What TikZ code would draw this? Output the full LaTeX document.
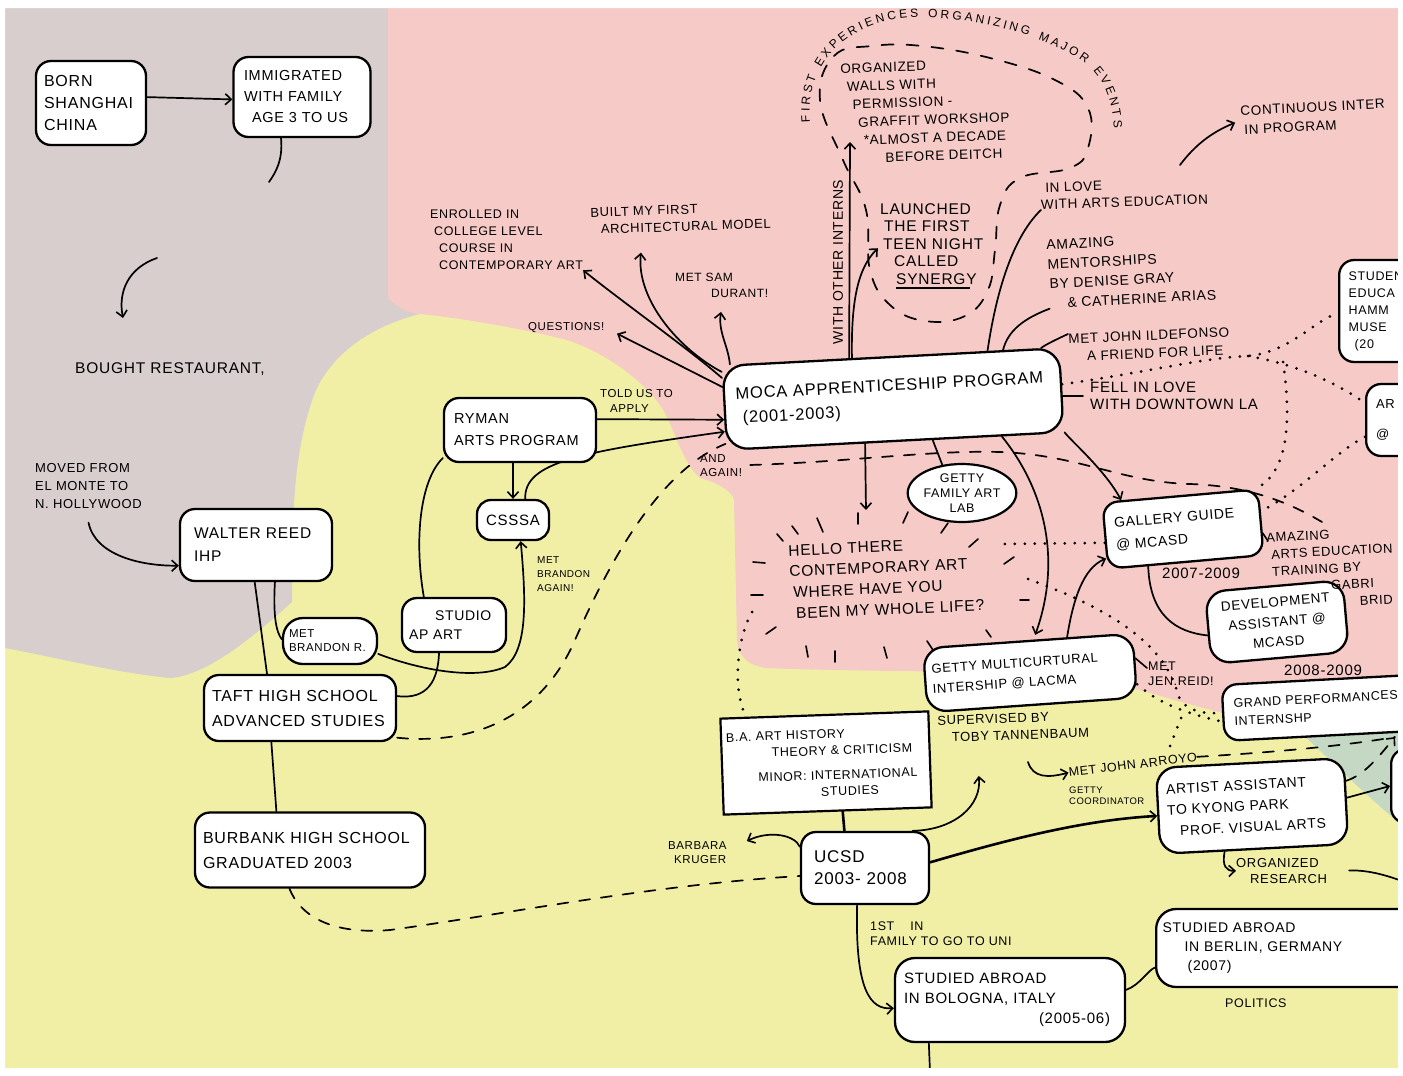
\documentclass[tikz,border=0pt]{standalone}
\usepackage{fontspec}
\setmainfont{Liberation Sans}[LetterSpace=5]
\usetikzlibrary{arrows.meta,shapes.geometric,decorations.text}
\newcommand{\myfs}[2]{\fontsize{#1pt}{#2pt}\selectfont}
\definecolor{bggray}{RGB}{216,206,205}
\definecolor{bgpink}{RGB}{246,202,198}
\definecolor{bgyellow}{RGB}{241,239,166}
\definecolor{bggreen}{RGB}{196,216,196}
\pgfdeclarelayer{back}
\pgfdeclarelayer{mid}
\pgfsetlayers{back,mid,main}
\tikzset{
  rbox/.style={draw=black, fill=white, line width=2.3pt, rounded corners=15pt, inner sep=3pt, align=left},
  lbl/.style={inner sep=0pt, align=left, anchor=north west},
  con/.style={line width=1.7pt, line cap=round},
  arr/.style={con, -{Straight Barb[length=6pt,width=11pt,line width=1.6pt]}},
  dashcon/.style={con, dash pattern=on 11pt off 11pt},
  dotcon/.style={line width=3pt, line cap=round, dash pattern=on 0pt off 10pt},
  tk/.style={line width=1.6pt, line cap=round},
}
\begin{document}
\hyphenpenalty=10000 \exhyphenpenalty=10000 \lefthyphenmin=60 \righthyphenmin=60
\begin{tikzpicture}[x=1pt,y=-1pt]
\useasboundingbox (0,0) rectangle (1403,1076);

% ---------- background regions ----------
\begin{pgfonlayer}{back}
\fill[white] (0,0) rectangle (1403,1076);
\fill[bgyellow] (5,8) rectangle (1398,1068);
\fill[bggray] (5,8) -- (388,8) -- (388,298) .. controls (398,308) and (408,312) .. (420,314)
  .. controls (372,326) and (334,352) .. (316,390) .. controls (300,430) and (294,480) .. (293,530)
  -- (292,602) .. controls (250,640) and (205,676) .. (170,678) .. controls (110,672) and (50,656) .. (5,648) -- cycle;
\fill[bgpink] (388,8) -- (1398,8) -- (1398,680) -- (1262,690) .. controls (1245,698) and (1232,707) .. (1223,713)
  .. controls (1170,700) and (1120,682) .. (1080,677) .. controls (1000,670) and (850,672) .. (766,668)
  .. controls (746,665) and (738,655) .. (737,640) -- (734,500) .. controls (732,490) and (715,482) .. (700,478)
  .. controls (682,462) and (676,432) .. (662,408) .. controls (648,386) and (612,355) .. (567,340)
  .. controls (520,328) and (460,318) .. (420,314) .. controls (408,312) and (398,308) .. (388,298) -- cycle;
\fill[bggreen] (1223,713) .. controls (1232,707) and (1245,698) .. (1262,690) -- (1398,678) -- (1398,822)
  .. controls (1360,790) and (1325,755) .. (1300,732) .. controls (1270,722) and (1240,716) .. (1223,713) -- cycle;
\end{pgfonlayer}

% ---------- boxes ----------
\node[rbox, minimum width=110pt, minimum height=84pt, text width=94pt, font=\myfs{16}{22}] (born) at (91,103) {BORN\\SHANGHAI\\CHINA};
\node[rbox, minimum width=137pt, minimum height=80pt, text width=116pt, font=\myfs{14.5}{21}] (immig) at (302,97) {IMMIGRATED\\WITH FAMILY\\\hspace*{8pt}AGE 3 TO US};
\node[rbox, minimum width=152pt, minimum height=72pt, text width=124pt, font=\myfs{15.5}{23}] (walter) at (256,545) {WALTER REED\\IHP};
\node[rbox, rounded corners=20pt, minimum width=94pt, minimum height=46pt, text width=82pt, font=\myfs{11.5}{14}] (brandon) at (330,641) {MET\\BRANDON R.};
\node[rbox, minimum width=104pt, minimum height=54pt, text width=90pt, font=\myfs{14}{19}] (studio) at (454,625) {\hspace*{26pt}STUDIO\\AP ART};
\node[rbox, minimum width=192pt, minimum height=66pt, text width=176pt, font=\myfs{16}{25}] (taft) at (300,708) {TAFT HIGH SCHOOL\\ADVANCED STUDIES};
\node[rbox, minimum width=230pt, minimum height=75pt, text width=214pt, font=\myfs{16}{25}] (burbank) at (310,850) {BURBANK HIGH SCHOOL\\GRADUATED 2003};
\node[rbox, minimum width=152pt, minimum height=64pt, text width=132pt, font=\myfs{14.5}{22}] (ryman) at (520,430) {RYMAN\\ARTS PROGRAM};
\node[rbox, rounded corners=14pt, minimum width=72pt, minimum height=40pt, font=\myfs{15}{18}, align=center] (csssa) at (513,520) {CSSSA};
\node[rbox, rotate=3, rounded corners=22pt, minimum width=337pt, minimum height=84pt, text width=314pt, font=\myfs{16.5}{24}] (moca) at (893,399) {MOCA APPRENTICESHIP PROGRAM\\\hspace*{6pt}(2001-2003)};
\node[draw=black, fill=white, line width=2.2pt, ellipse, minimum width=100pt, minimum height=58pt, inner sep=0pt, align=center, font=\myfs{12.5}{15}] (gettyfam) at (962,493) {GETTY\\FAMILY ART\\LAB};
\node[rbox, rotate=5, minimum width=156pt, minimum height=66pt, text width=136pt, font=\myfs{14}{22}] (gallery) at (1183,529) {GALLERY GUIDE\\@ MCASD};
\node[rbox, rotate=5, rounded corners=20pt, minimum width=138pt, minimum height=72pt, align=center, font=\myfs{13.5}{20}] (devel) at (1277,622) {DEVELOPMENT\\ASSISTANT @\\MCASD};
\node[rbox, rotate=4, rounded corners=20pt, minimum width=210pt, minimum height=64pt, text width=196pt, font=\myfs{13}{20}] (gettymc) at (1030,673) {GETTY MULTICURTURAL\\INTERSHIP @ LACMA};
\node[rbox, anchor=west, rotate=3, minimum width=200pt, minimum height=56pt, text width=178pt, font=\myfs{12.5}{18}] (grand) at (1222,713) {GRAND PERFORMANCES\\INTERNSHP};
\node[draw=black, fill=white, line width=2.2pt, rotate=2, minimum width=208pt, minimum height=96pt, inner sep=3pt, text width=198pt, align=left, font=\myfs{12.5}{16.5}] (ba) at (826,763) {B.A. ART HISTORY\\\hspace*{45pt}THEORY \& CRITICISM\\[8pt]\hspace*{31pt}MINOR: INTERNATIONAL\\\hspace*{93pt}STUDIES};
\node[rbox, minimum width=128pt, minimum height=72pt, text width=102pt, font=\myfs{17}{22}] (ucsd) at (865,868) {UCSD\\2003- 2008};
\node[rbox, rounded corners=20pt, minimum width=230pt, minimum height=84pt, text width=212pt, font=\myfs{15}{20}] (bologna) at (1010,1000) {STUDIED ABROAD\\IN BOLOGNA, ITALY\\\hspace*{135pt}(2005-06)};
\node[rbox, anchor=west, rounded corners=20pt, minimum width=275pt, minimum height=78pt, text width=262pt, font=\myfs{14}{19}] (berlin) at (1155,948) {STUDIED ABROAD\\\hspace*{22pt}IN BERLIN, GERMANY\\\hspace*{25pt}(2007)};
\node[rbox, rotate=3, rounded corners=20pt, minimum width=188pt, minimum height=86pt, text width=170pt, font=\myfs{14}{21}] (artist) at (1252,806) {ARTIST ASSISTANT\\TO KYONG PARK\\\hspace*{12pt}PROF. VISUAL ARTS};
\node[rbox, anchor=west, minimum width=60pt, minimum height=74pt] (rightbox) at (1390,786) {};
\node[rbox, anchor=west, minimum width=115pt, minimum height=102pt, text width=96pt, font=\myfs{12.5}{17}] (student) at (1338,311) {STUDEN\\EDUCA\\HAMM\\MUSE\\\hspace*{6pt}(20};
\node[rbox, anchor=west, minimum width=90pt, minimum height=72pt, text width=70pt, font=\myfs{13}{30}] (artbox) at (1365,420) {AR\\@};

% ---------- labels ----------
\node[lbl, font=\myfs{15.5}{18}] (bought) at (75,362) {BOUGHT RESTAURANT,};
\node[lbl, font=\myfs{13}{18}] (moved) at (35,463) {MOVED FROM\\EL MONTE TO\\N. HOLLYWOOD};
\node[lbl, font=\myfs{11.5}{15}] (toldus) at (600,389) {TOLD US TO\\\hspace*{10pt}APPLY};
\node[lbl, font=\myfs{11.5}{14}] (andagain) at (700,454) {AND\\AGAIN!};
\node[lbl, font=\myfs{10}{14}] (brandonagain) at (537,556) {MET\\BRANDON\\AGAIN!};
\node[lbl, font=\myfs{11.5}{14}] (questions) at (528,322) {QUESTIONS!};
\node[lbl, font=\myfs{12.5}{17}] (enrolled) at (430,210) {ENROLLED IN\\\hspace*{4pt}COLLEGE LEVEL\\\hspace*{9pt}COURSE IN\\\hspace*{9pt}CONTEMPORARY ART};
\node[lbl, rotate=2, font=\myfs{13}{17}] (built) at (590,208) {BUILT MY FIRST\\\hspace*{10pt}ARCHITECTURAL MODEL};
\node[lbl, font=\myfs{12}{16}] (metsam) at (675,273) {MET SAM\\\hspace*{36pt}DURANT!};
\node[font=\myfs{14}{16}, rotate=90, inner sep=0pt] (interns) at (838,262) {WITH OTHER INTERNS};
\node[lbl, rotate=2, font=\myfs{13.5}{18}] (organized) at (840,64) {ORGANIZED\\\hspace*{6pt}WALLS WITH\\\hspace*{11pt}PERMISSION -\\\hspace*{16pt}GRAFFIT WORKSHOP\\\hspace*{21pt}*ALMOST A DECADE\\\hspace*{42pt}BEFORE DEITCH};
\node[lbl, font=\myfs{15.5}{17.5}] (launched) at (880,203) {LAUNCHED\\\hspace*{4pt}THE FIRST\\\hspace*{3pt}TEEN NIGHT\\\hspace*{14pt}CALLED\\\hspace*{16pt}\rlap{\rule[-5pt]{74pt}{1.8pt}}SYNERGY};
\node[lbl, rotate=2, font=\myfs{13.5}{17}] (inlove) at (1040,183) {\hspace*{5pt}IN LOVE\\WITH ARTS EDUCATION};
\node[lbl, rotate=3, font=\myfs{14}{19.5}] (amazing) at (1046,240) {AMAZING\\MENTORSHIPS\\\hspace*{1pt}BY DENISE GRAY\\\hspace*{18pt}\& CATHERINE ARIAS};
\node[lbl, rotate=2.5, font=\myfs{13.5}{18}] (metjohn) at (1068,334) {MET JOHN ILDEFONSO\\\hspace*{18pt}A FRIEND FOR LIFE};
\node[lbl, font=\myfs{15}{17}] (fellinlove) at (1090,382) {FELL IN LOVE\\WITH DOWNTOWN LA};
\node[lbl, rotate=3, font=\myfs{13.5}{19}] (continuous) at (1240,106) {CONTINUOUS INTER\\\hspace*{3pt}IN PROGRAM};
\node[lbl, rotate=2.5, font=\myfs{15.5}{21}] (hello) at (788,545) {HELLO THERE\\CONTEMPORARY ART\\\hspace*{3pt}WHERE HAVE YOU\\\hspace*{5pt}BEEN MY WHOLE LIFE?};
\node[lbl, font=\myfs{15}{16}] (yrs1) at (1162,568) {2007-2009};
\node[lbl, rotate=3, font=\myfs{13}{17}] (amazarts) at (1266,533) {AMAZING\\\hspace*{4pt}ARTS EDUCATION\\\hspace*{4pt}TRAINING BY\\\hspace*{62pt}GABRI\\\hspace*{90pt}BRID};
\node[lbl, font=\myfs{15}{16}] (yrs2) at (1284,665) {2008-2009};
\node[lbl, rotate=2, font=\myfs{13}{17}] (supervised) at (937,716) {SUPERVISED BY\\\hspace*{14pt}TOBY TANNENBAUM};
\node[lbl, font=\myfs{12.5}{15}] (metjen) at (1148,662) {MET\\JEN.REID!};
\node[lbl, font=\myfs{11.5}{14}] (barbara) at (668,841) {BARBARA\\\hspace*{6pt}KRUGER};
\node[lbl, font=\myfs{12.5}{15}] (firstfam) at (870,922) {1ST\hspace{16pt}IN\\FAMILY TO GO TO UNI};
\node[lbl, font=\myfs{12.5}{14}] (politics) at (1225,999) {POLITICS};
\node[lbl, rotate=7, font=\myfs{12.5}{14}] (arroyo) at (1068,768) {MET JOHN ARROYO};
\node[lbl, font=\myfs{9.5}{11}] (coord) at (1069,787) {GETTY\\COORDINATOR};
\node[lbl, font=\myfs{13}{16}] (orgres) at (1236,858) {ORGANIZED\\\hspace*{14pt}RESEARCH};

% ---------- free coordinates ----------
\coordinate (c1) at (269,182);
\coordinate (c2) at (157,258);
\coordinate (helloTip) at (866,510);
\coordinate (contStart) at (1180,165);
\coordinate (j1) at (1248,356);
\coordinate (j2) at (1283,362);
\coordinate (j3) at (1181,718);
\coordinate (dotA) at (1003,544);
\coordinate (dotB) at (1028,579);
\coordinate (dotC) at (752,612);
\coordinate (gabEnd) at (1322,522);
\coordinate (tipR) at (1395,737);
\coordinate (edgeR) at (1402,881);
\coordinate (bolEnd) at (930,1072);
\coordinate (supHook) at (1028,762);

% ---------- connectors ----------
\begin{pgfonlayer}{mid}
\draw[arr] (born.6) -- (immig.182);
\draw[con] (immig.243) .. controls (283,160) and (276,172) .. (c1);
\draw[arr] (c2) .. controls (128,268) and (118,292) .. ([shift={(48,-44)}]bought.north west);
\draw[arr] ([yshift=-14pt]moved.south) .. controls (95,555) and (140,566) .. (walter.195);
\draw[con] (walter.268) -- (taft.134);
\draw[con] (walter.297) .. controls (273,615) and (276,632) .. (brandon.178);
\draw[arr] (brandon.345) .. controls (420,670) and (475,680) .. (505,667) .. controls (528,650) and (526,600) .. (csssa.290);
\draw[con] (taft.7) .. controls (428,700) and (438,680) .. (studio.242);
\draw[con] (studio.137) .. controls (414,540) and (420,480) .. (ryman.200);
\draw[con] (taft.230) -- (burbank.131);
\draw[dashcon] (taft.343) .. controls (470,745) and (540,720) .. (575,640) .. controls (610,560) and (660,470) .. (moca.192);
\draw[dashcon] (burbank.242) .. controls (300,915) and (330,935) .. (390,930) .. controls (500,915) and (650,885) .. (ucsd.187);
\draw[arr] (ryman.8) -- (moca.184);
\draw[arr] (ryman.258) -- (csssa.north);
\draw[arr] (csssa.60) .. controls (524,462) and (580,452) .. (moca.188);
\draw[arr, shorten >=14pt] (moca.173) -- (questions.east);
\draw[arr] (moca.170) .. controls (690,350) and (620,300) .. (enrolled.south east);
\draw[arr] (moca.168) .. controls (680,350) and (636,300) .. ([shift={(50,18)}]built.south west);
\draw[arr] (moca.165) .. controls (728,345) and (718,332) .. ([shift={(46,14)}]metsam.south west);
\draw[arr] (moca.134) -- ([shift={(10,78)}]organized.north west);
\draw[arr, shorten >=3pt] (moca.132) .. controls (851,300) and (858,268) .. (launched.west);
\draw[con] (moca.24) .. controls (995,300) and (1010,240) .. (inlove.south west);
\draw[con] (moca.21) .. controls (1008,330) and (1025,318) .. (amazing.south west);
\draw[con] (moca.16) .. controls (1045,345) and (1055,340) .. (metjohn.north west);
\draw[con, shorten >=7pt] (moca.358) -- (fellinlove.west);
\draw[arr] (moca.235) -- (helloTip);
\draw[con] (moca.311) -- (gettyfam.125);
\draw[arr] (moca.346) .. controls (1070,440) and (1105,470) .. (gallery.150);
\draw[arr, shorten >=5pt] (moca.338) .. controls (1045,490) and (1062,560) .. (gettymc.80);
\draw[arr] (gettymc.40) .. controls (1073,600) and (1083,568) .. (gallery.196);
\draw[con] (gallery.222) .. controls (1150,615) and (1175,632) .. (devel.186);
\draw[tk] (gallery.352) -- ([shift={(2,8)}]amazarts.north west);
\draw[tk] (gettymc.4) -- ([shift={(-1,6)}]metjen.north west);
\draw[arr, shorten >=6pt] (contStart) .. controls (1195,145) and (1212,132) .. (continuous.west);
% dotted
\draw[dotcon] (moca.2) .. controls (1150,372) and (1200,358) .. (j1) .. controls (1290,352) and (1315,320) .. (student.182);
\draw[dotcon] (j1) .. controls (1300,365) and (1340,385) .. (artbox.160);
\draw[dotcon] (j2) .. controls (1290,410) and (1292,470) .. (gallery.24);
\draw[dotcon] (artbox.200) .. controls (1335,452) and (1300,492) .. (gallery.8);
\draw[dotcon] (gallery.185) -- (dotA);
\draw[dotcon] (dotB) .. controls (1100,605) and (1165,640) .. (1178,695) .. controls (1185,712) and (1205,714) .. (grand.180);
\draw[dotcon] (gettymc.350) .. controls (1160,705) and (1190,714) .. (grand.185);
\draw[dotcon] (j3) -- ([shift={(-28,-2)}]arroyo.north east);
\draw[dotcon] (dotC) .. controls (736,640) and (733,690) .. (ba.148);
% dashed
\draw[dashcon, shorten <=8pt] (andagain.east) .. controls (850,462) and (930,450) .. (1000,452) .. controls (1080,455) and (1120,482) .. (1190,484) .. controls (1250,486) and (1290,503) .. (gabEnd);
\draw[dashcon] (arroyo.east) .. controls (1280,752) and (1350,745) .. (tipR);
\draw[dashcon, -{Straight Barb[length=6pt,width=11pt,line width=1.6pt]}] (artist.12) .. controls (1365,775) and (1380,755) .. (tipR);
\draw[arr] (artist.2) -- (rightbox.west);
\draw[arr] (artist.236) .. controls (1222,866) and (1226,871) .. (orgres.west);
\draw[con, shorten <=22pt] (orgres.east) .. controls (1370,870) and (1388,876) .. (edgeR);
\draw[arr] (ucsd.162) .. controls (795,835) and (770,830) .. ([shift={(20,0)}]barbara.north east);
\draw[con, line width=2.6pt] (ba.287) -- (ucsd.119);
\draw[arr] (ucsd.38) .. controls (955,830) and (982,805) .. ([shift={(-35,36)}]supervised.south);
\draw[arr, line width=2.6pt] (ucsd.5) .. controls (1000,842) and (1080,820) .. (artist.183);
\draw[arr] (ucsd.258) .. controls (855,990) and (870,1010) .. (bologna.184);
\draw[con] (bologna.5) .. controls (1140,985) and (1148,970) .. (berlin.188);
\draw[con] (bologna.208) -- (bolEnd);
\draw[arr] (supHook) .. controls (1033,778) and (1048,778) .. (arroyo.west);
% dashed loop around first events
\draw[con, dash pattern=on 12pt off 13pt] plot[smooth cycle, tension=0.7] coordinates {(820,100) (834,56) (872,46) (922,46) (990,58) (1055,80) (1088,108) (1088,148) (1070,168) (1020,178) (1000,205) (995,250) (988,290) (965,316) (925,321) (890,305) (870,270) (866,210) (843,160)};
\path[decorate, decoration={text along path, text align={fit to path}, text={|\myfs{12}{14}|FIRST EXPERIENCES ORGANIZING MAJOR EVENTS}}] (810,122) .. controls (805,64) and (846,22) .. (910,18) .. controls (984,14) and (1066,44) .. (1093,70) .. controls (1107,86) and (1113,106) .. (1114,128);
% rays around "hello there"
\foreach \a/\b/\c/\d in {777/534/783/541, 792/526/798/534, 817/518/823/532, 858/513/858/524, 908/512/903/523, 948/523/941/533, 978/539/969/547, 1014/557/1004/564, 1029/600/1020/600, 986/630/991/637, 927/641/933/650, 884/647/887/658, 835/651/835/662, 806/646/808/657, 766/634/776/627, 751/595/763/595, 753/562/765/563}
  \draw[tk] (\a,\b) -- (\c,\d);
\end{pgfonlayer}

% white frame
\fill[white, even odd rule] (0,0) rectangle (1403,1076) (5,8) rectangle (1398,1068);
\end{tikzpicture}
\end{document}
